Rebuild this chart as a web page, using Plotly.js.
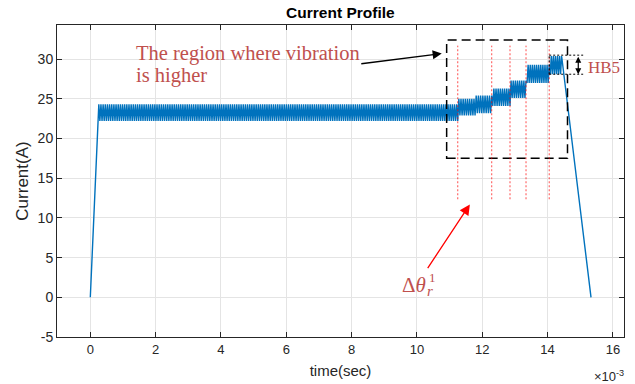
<!DOCTYPE html>
<html>
<head>
<meta charset="utf-8">
<script src="https://cdn.plot.ly/plotly-3.0.1.min.js"></script>
<style>
  html, body { margin: 0; padding: 0; background: #ffffff; }
  #chart { width: 635px; height: 384px; }
</style>
</head>
<body>
<div id="chart"></div>
<script>
// Current profile: ramp up, ripple band, five stepped harmonic bands, ramp down.
// Time is in milliseconds (axis shows ×10^-3 s).

// Ramp endpoints [time ms, current A]
const rampStartTime = 0;
const rampStartCurrent = 0;
const rampEndTime = 15.33;
const rampEndCurrent = 0;

// Ripple bands: start / end time (ms), trough and crest current (A)
const bandStart = [0.26, 11.25, 11.78, 12.29, 12.85, 13.34, 14.05];
const bandEnd   = [11.25, 11.78, 12.29, 12.85, 13.34, 14.05, 14.43];
const bandLow   = [22.2, 22.9, 23.2, 24.1, 25.1, 27.0, 28.1];
const bandHigh  = [24.3, 25.0, 25.4, 26.3, 27.3, 29.3, 30.4];
const ripplePeriod = 0.066; // ms

// Red dotted markers (ms) and their vertical extent (A)
const markerTimes = [11.25, 12.29, 12.85, 13.34, 14.05];
const markerLow = 12.35;
const markerHigh = 31.7;

// Dashed region box
const regionX = [10.91, 14.61];
const regionY = [17.5, 32.4];

// HB5 bracket
const hbX = [14.05, 15.09];
const hbY = [28.1, 30.5];
const hbArrowX = 14.94;

// Axis ticks
const xTicks = [0, 2, 4, 6, 8, 10, 12, 14, 16];
const yTicks = [-5, 0, 5, 10, 15, 20, 25, 30];

// Build the waveform from the ramp and band envelopes
const t = [rampStartTime];
const current = [rampStartCurrent];
let crest = true;
for (let i = 0; i < bandStart.length; i++) {
  const span = bandEnd[i] - bandStart[i];
  const n = Math.max(1, Math.round(span / (ripplePeriod / 2)));
  for (let k = (i === 0 ? 0 : 1); k <= n; k++) {
    t.push(bandStart[i] + span * k / n);
    current.push(crest ? bandHigh[i] : bandLow[i]);
    crest = !crest;
  }
}
t.push(rampEndTime);
current.push(rampEndCurrent);

const sans = 'Liberation Sans, Arial, Helvetica, sans-serif';
const serif = 'Liberation Serif, Times New Roman, serif';
const noteColor = '#c0504d';
const axisColor = '#262626';
const gridColor = '#e4e4e4';

const shapes = [];
shapes.push({
  type: 'rect', xref: 'x', yref: 'y',
  x0: regionX[0], x1: regionX[1], y0: regionY[0], y1: regionY[1],
  line: { color: '#000000', width: 1.5, dash: '9px,5px' }
});
markerTimes.forEach(function (mt) {
  shapes.push({
    type: 'line', xref: 'x', yref: 'y',
    x0: mt, x1: mt, y0: markerLow, y1: markerHigh,
    line: { color: 'rgba(255,0,0,0.7)', width: 1, dash: '2px,2px' }
  });
});
[[hbX[0], hbY[1], hbX[1], hbY[1]],
 [hbX[0], hbY[0], hbX[1], hbY[0]],
 [hbX[0], hbY[0], hbX[0], hbY[1]]].forEach(function (s) {
  shapes.push({
    type: 'line', xref: 'x', yref: 'y',
    x0: s[0], y0: s[1], x1: s[2], y1: s[3],
    line: { color: '#000000', width: 1, dash: '2px,2px' }
  });
});

const annotations = [
  {
    xref: 'x', yref: 'y', x: 1.33, y: 30.75, xanchor: 'left', yanchor: 'middle',
    text: 'The region where vibration', showarrow: false,
    font: { family: serif, size: 20.5, color: noteColor }
  },
  {
    xref: 'x', yref: 'y', x: 1.33, y: 28.0, xanchor: 'left', yanchor: 'middle',
    text: 'is higher', showarrow: false,
    font: { family: serif, size: 20.5, color: noteColor }
  },
  {
    xref: 'x', yref: 'y', axref: 'x', ayref: 'y',
    x: 10.76, y: 30.7, ax: 8.25, ay: 29.4,
    text: '', showarrow: true, arrowhead: 2, arrowsize: 1.3, arrowwidth: 1.4,
    arrowcolor: '#000000'
  },
  {
    xref: 'x', yref: 'y', axref: 'x', ayref: 'y',
    x: 11.62, y: 11.7, ax: 10.30, ay: 3.49,
    text: '', showarrow: true, arrowhead: 2, arrowsize: 1.6, arrowwidth: 1.3,
    arrowcolor: '#ff0000'
  },
  // Δθ with stacked r subscript and 1 superscript
  {
    xref: 'x', yref: 'y', x: 9.47, y: 1.5, xanchor: 'left', yanchor: 'middle',
    text: 'Δ<i>θ</i>', showarrow: false,
    font: { family: serif, size: 21, color: noteColor }
  },
  {
    xref: 'x', yref: 'y', x: 10.24, y: 0.75, xanchor: 'left', yanchor: 'middle',
    text: '<i>r</i>', showarrow: false,
    font: { family: serif, size: 15, color: noteColor }
  },
  {
    xref: 'x', yref: 'y', x: 10.3, y: 2.5, xanchor: 'left', yanchor: 'middle',
    text: '1', showarrow: false,
    font: { family: serif, size: 13, color: noteColor }
  },
  {
    xref: 'x', yref: 'y', axref: 'x', ayref: 'y',
    x: hbArrowX, y: hbY[0], ax: hbArrowX, ay: hbY[1],
    text: '', showarrow: true, arrowside: 'end+start',
    arrowhead: 2, startarrowhead: 2, arrowsize: 1, startarrowsize: 1,
    arrowwidth: 1.2, arrowcolor: '#000000'
  },
  {
    xref: 'x', yref: 'y', x: 15.17, y: 28.9, xanchor: 'left', yanchor: 'middle',
    text: 'HB5', showarrow: false,
    font: { family: serif, size: 17, color: noteColor }
  },
  {
    xref: 'paper', yref: 'paper', x: 1.003, y: -0.125, xanchor: 'right', yanchor: 'middle',
    text: '×10<sup>-3</sup>', showarrow: false,
    font: { family: sans, size: 13, color: axisColor }
  }
];

const data = [{
  type: 'scatter', mode: 'lines', x: t, y: current,
  line: { color: '#0072BD', width: 1.4 },
  hoverinfo: 'skip'
}];

const layout = {
  width: 635, height: 384,
  margin: { l: 57, r: 11, t: 25, b: 47 },
  paper_bgcolor: '#ffffff', plot_bgcolor: '#ffffff',
  showlegend: false,
  font: { family: sans, color: axisColor },
  title: {
    text: '<b>Current Profile</b>',
    font: { family: sans, size: 15.5, color: '#000000' },
    x: 0.536, xanchor: 'center', xref: 'container',
    y: 1 - 13 / 384, yanchor: 'middle', yref: 'container'
  },
  xaxis: {
    range: [-1.02, 16.34], tickvals: xTicks, ticktext: xTicks.map(String),
    ticks: 'inside', ticklen: 5, tickcolor: axisColor, mirror: 'allticks',
    showline: true, linecolor: axisColor, linewidth: 1,
    showgrid: true, gridcolor: gridColor, zeroline: false,
    tickfont: { family: sans, size: 13, color: axisColor },
    title: { text: 'time(sec)', font: { family: sans, size: 15, color: axisColor }, standoff: 9 }
  },
  yaxis: {
    range: [-5, 34.3], tickvals: yTicks, ticktext: yTicks.map(String),
    ticks: 'inside', ticklen: 5, tickcolor: axisColor, mirror: 'allticks',
    showline: true, linecolor: axisColor, linewidth: 1,
    showgrid: true, gridcolor: gridColor, zeroline: false,
    tickfont: { family: sans, size: 14, color: axisColor },
    title: { text: 'Current(A)', font: { family: sans, size: 17, color: axisColor }, standoff: 4 }
  },
  shapes: shapes,
  annotations: annotations
};

Plotly.newPlot('chart', data, layout, { staticPlot: true, displayModeBar: false });
</script>
</body>
</html>
